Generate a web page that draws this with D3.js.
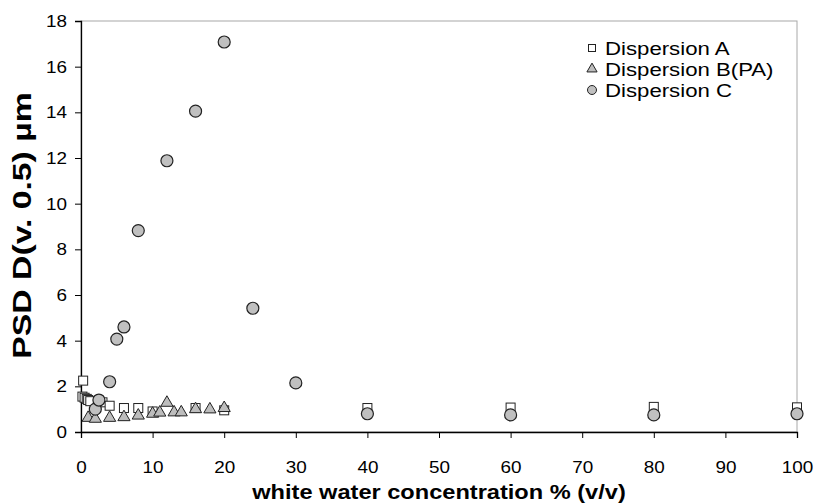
<!DOCTYPE html>
<html>
<head>
<meta charset="utf-8">
<script src="https://cdn.jsdelivr.net/npm/d3@7"></script>
<style>
  html, body { margin: 0; padding: 0; background: #fff; }
  svg { display: block; }
  text { font-family: "Liberation Sans", Arial, sans-serif; fill: #000; }
</style>
</head>
<body>
<svg id="chart" width="814" height="503"></svg>
<script>
// Dispersion A (open squares)
const aX = [0.2, 0.3, 0.5, 0.8, 1.0, 1.3, 3, 4, 6, 8, 10, 16, 20, 40, 60, 80, 100];
const aY = [1.55, 2.25, 1.5, 1.45, 1.4, 1.35, 1.3, 1.15, 1.05, 1.05, 0.9, 1.05, 0.95, 1.05, 1.07, 1.1, 1.08];

// Dispersion B(PA) (grey triangles)
const bX = [1, 2, 4, 6, 8, 10, 11, 12, 13, 14, 16, 18, 20];
const bY = [0.62, 0.58, 0.62, 0.65, 0.72, 0.8, 0.85, 1.28, 0.86, 0.86, 1.0, 0.99, 1.05];

// Dispersion C (grey circles)
const cX = [2, 2.5, 4, 5, 6, 8, 12, 16, 20, 24, 30, 40, 60, 80, 100];
const cY = [1.0, 1.4, 2.2, 4.07, 4.6, 8.82, 11.88, 14.05, 17.08, 5.42, 2.15, 0.8, 0.75, 0.75, 0.8];

const seriesNames = ["Dispersion A", "Dispersion B(PA)", "Dispersion C"];
const xTicks = [0, 10, 20, 30, 40, 50, 60, 70, 80, 90, 100];
const yTicks = [0, 2, 4, 6, 8, 10, 12, 14, 16, 18];

const svg = d3.select("#chart");
const plotL = 81, plotR = 797, plotT = 21, plotB = 432;
const SX = 1.18; // horizontal text widening

const x = d3.scaleLinear().domain([0, 100]).range([plotL, plotR]);
const y = d3.scaleLinear().domain([0, 18]).range([plotB, plotT]);

// plot frame (grey)
svg.append("rect")
  .attr("x", plotL).attr("y", plotT)
  .attr("width", plotR - plotL).attr("height", plotB - plotT)
  .attr("fill", "none").attr("stroke", "#a8a8a8").attr("stroke-width", 1);

// axes
const xAxis = d3.axisBottom(x).tickValues(xTicks).tickSize(6).tickFormat(d3.format("d"));
const yAxis = d3.axisLeft(y).tickValues(yTicks).tickSize(6).tickFormat(d3.format("d"));

const gx = svg.append("g").attr("transform", `translate(0,${plotB})`).call(xAxis);
const gy = svg.append("g").attr("transform", `translate(${plotL},0)`).call(yAxis);

[gx, gy].forEach(g => {
  g.select(".domain").attr("stroke", "#000").attr("stroke-width", 1.3);
  g.selectAll(".tick line").attr("stroke", "#000").attr("stroke-width", 1);
  g.selectAll(".tick text").attr("font-size", 16).attr("fill", "#000")
    .attr("font-family", "Liberation Sans, Arial, sans-serif");
});
gx.selectAll(".tick text").attr("dy", null).attr("y", 0)
  .attr("transform", `translate(0,41) scale(${SX},1)`);
gy.selectAll(".tick text").attr("x", 0).attr("dy", "0.35em")
  .attr("transform", `translate(-14,0) scale(${SX},1)`);

// axis titles
svg.append("text")
  .attr("text-anchor", "middle")
  .attr("font-size", 20).attr("font-weight", "bold")
  .attr("transform", `translate(${(plotL + plotR) / 2},499) scale(${SX},1)`)
  .text("white water concentration % (v/v)");

svg.append("text")
  .attr("text-anchor", "middle")
  .attr("font-size", 25).attr("font-weight", "bold")
  .attr("transform", `translate(31,${(plotT + plotB) / 2 - 1}) rotate(-90) scale(1.35,1)`)
  .text("PSD D(v. 0.5) µm");

const tri = d3.symbol().type(d3.symbolTriangle);

// Dispersion A
svg.append("g").selectAll("rect").data(aX.map((v, i) => [v, aY[i]])).join("rect")
  .attr("x", d => x(d[0]) - 4.5).attr("y", d => y(d[1]) - 4.5)
  .attr("width", 9).attr("height", 9)
  .attr("fill", "#fff").attr("stroke", "#222").attr("stroke-width", 1);

// Dispersion B(PA)
svg.append("g").selectAll("path").data(bX.map((v, i) => [v, bY[i]])).join("path")
  .attr("d", tri.size(64))
  .attr("transform", d => `translate(${x(d[0])},${y(d[1])})`)
  .attr("fill", "#bdbdbd").attr("stroke", "#222").attr("stroke-width", 1);

// Dispersion C
svg.append("g").selectAll("circle").data(cX.map((v, i) => [v, cY[i]])).join("circle")
  .attr("cx", d => x(d[0])).attr("cy", d => y(d[1])).attr("r", 6)
  .attr("fill", "#c0c0c0").attr("stroke", "#222").attr("stroke-width", 1.2);

// legend
const lg = svg.append("g");
const lx = 592, ly0 = 48, ldy = 21;
lg.append("rect").attr("x", lx - 3.5).attr("y", ly0 - 3.5).attr("width", 7).attr("height", 7)
  .attr("fill", "#fff").attr("stroke", "#222");
lg.append("path").attr("d", tri.size(45)).attr("transform", `translate(${lx},${ly0 + ldy})`)
  .attr("fill", "#bdbdbd").attr("stroke", "#222");
lg.append("circle").attr("cx", lx).attr("cy", ly0 + 2 * ldy).attr("r", 4.5)
  .attr("fill", "#c0c0c0").attr("stroke", "#222");
seriesNames.forEach((n, i) => {
  lg.append("text").attr("font-size", 18.5)
    .attr("transform", `translate(605,${ly0 + i * ldy + 6.5}) scale(1.2,1)`)
    .text(n);
});
</script>
</body>
</html>
